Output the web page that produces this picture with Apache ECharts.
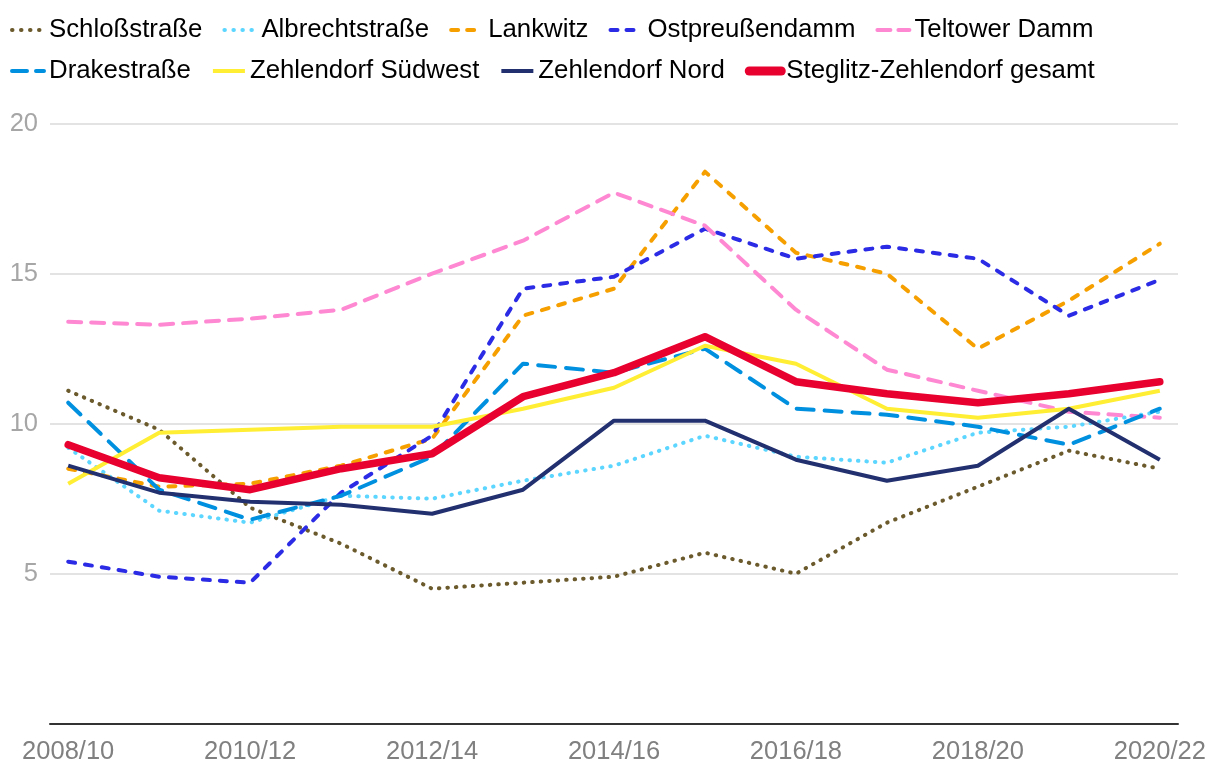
<!DOCTYPE html>
<html>
<head>
<meta charset="utf-8">
<script src="https://cdn.jsdelivr.net/npm/echarts@6/dist/echarts.min.js"></script>
<style>
html,body{margin:0;padding:0;background:#fff;}
#chart{width:1220px;height:776px;}
</style>
</head>
<body>
<div id="chart"></div>
<script>
const categories = ['2008/10','2009/11','2010/12','2011/13','2012/14','2013/15','2014/16','2015/17','2016/18','2017/19','2018/20','2019/21','2020/22'];
const labelIndices = [0, 2, 4, 6, 8, 10, 12];
const yTicks = [0, 5, 10, 15, 20];

const schlossstrasse   = [11.1, 9.8, 7.2, 6.0, 4.5, 4.7, 4.9, 5.7, 5.0, 6.7, 7.9, 9.1, 8.5];
const albrechtstrasse  = [9.2, 7.1, 6.7, 7.6, 7.5, 8.1, 8.6, 9.6, 8.9, 8.7, 9.7, 9.9, 10.4];
const lankwitz         = [8.5, 7.9, 8.0, 8.6, 9.5, 13.6, 14.5, 18.4, 15.7, 15.0, 12.5, 14.1, 16.0];
const ostpreussendamm  = [5.4, 4.9, 4.7, 7.7, 9.6, 14.5, 14.9, 16.5, 15.5, 15.9, 15.5, 13.6, 14.8];
const teltowerDamm     = [13.4, 13.3, 13.5, 13.8, 15.0, 16.1, 17.7, 16.6, 13.8, 11.8, 11.1, 10.4, 10.2];
const drakestrasse     = [10.7, 7.8, 6.8, 7.6, 8.9, 12.0, 11.7, 12.5, 10.5, 10.3, 9.9, 9.3, 10.5];
const zehlendorfSW     = [8.0, 9.7, 9.8, 9.9, 9.9, 10.5, 11.2, 12.6, 12.0, 10.5, 10.2, 10.5, 11.1];
const zehlendorfNord   = [8.6, 7.7, 7.4, 7.3, 7.0, 7.8, 10.1, 10.1, 8.8, 8.1, 8.6, 10.5, 8.8];
const gesamt           = [9.3, 8.2, 7.8, 8.5, 9.0, 10.9, 11.7, 12.9, 11.4, 11.0, 10.7, 11.0, 11.4];

const FONT = "'Liberation Sans', Arial, sans-serif";

function pts(arr){ return arr.map((v,i)=>[i,v]); }

const seriesDefs = [
  {name:'Schloßstraße', data:schlossstrasse, color:'#6b5a2c', width:4, type:[0.5,8], legendType:[0.5,8.5], cap:'round', legendWidth:4},
  {name:'Albrechtstraße', data:albrechtstrasse, color:'#5cd6ff', width:4, type:[0.5,8], legendType:[0.5,8.5], cap:'round', legendWidth:4},
  {name:'Lankwitz', data:lankwitz, color:'#f5a000', width:4, type:[7,10], legendType:[7,9], cap:'round', legendWidth:4},
  {name:'Ostpreußendamm', data:ostpreussendamm, color:'#2b2be6', width:4, type:[7,10], legendType:[7,9], cap:'round', legendWidth:4},
  {name:'Teltower Damm', data:teltowerDamm, color:'#ff88d2', width:4, type:[13,10], legendType:[13,8], cap:'round', legendWidth:4},
  {name:'Drakestraße', data:drakestrasse, color:'#0090e0', width:4, type:[17,11], legendType:[15,9], cap:'round', legendWidth:4},
  {name:'Zehlendorf Südwest', data:zehlendorfSW, color:'#ffee33', width:4, type:'solid', legendType:'solid', cap:'butt', legendWidth:4},
  {name:'Zehlendorf Nord', data:zehlendorfNord, color:'#233070', width:4, type:'solid', legendType:'solid', cap:'butt', legendWidth:4},
  {name:'Steglitz-Zehlendorf gesamt', data:gesamt, color:'#e8002e', width:7.5, type:'solid', legendType:'solid', cap:'round', legendWidth:9}
];

function legendItems(defs){
  return defs.map(s => ({
    name: s.name,
    itemStyle: {opacity: 0},
    lineStyle: {width: s.legendWidth, color: s.color, type: s.legendType, cap: s.cap}
  }));
}

const legendCommon = {
  left: 10, padding: 0, itemWidth: 32, itemHeight: 14, itemGap: 20,
  textStyle: {fontFamily: FONT, fontSize: 25.8, color: '#000'},
  itemStyle: {opacity: 0},
  selectedMode: false
};

const option = {
  animation: false,
  backgroundColor: '#fff',
  legend: [
    Object.assign({}, legendCommon, {top: 17, data: legendItems(seriesDefs.slice(0,5))}),
    Object.assign({}, legendCommon, {top: 58, data: legendItems(seriesDefs.slice(5))})
  ],
  grid: {left: 50, right: 42, top: 123.7, bottom: 52.3, containLabel: false},
  xAxis: {
    type: 'value', min: -0.2, max: 12.2,
    axisLine: {show: true, onZero: false, lineStyle: {color: '#333', width: 2}},
    axisTick: {show: false},
    splitLine: {show: false},
    axisLabel: {
      customValues: labelIndices,
      formatter: v => categories[Math.round(v)] || '',
      fontFamily: FONT, fontSize: 25.5, color: '#808080', margin: 15
    }
  },
  yAxis: {
    type: 'value', min: yTicks[0], max: yTicks[yTicks.length-1], interval: 5,
    axisLine: {show: false}, axisTick: {show: false},
    splitLine: {lineStyle: {color: '#e3e3e3', width: 2}},
    axisLabel: {
      formatter: v => (v === 0 ? '' : String(v)),
      fontFamily: FONT, fontSize: 25.5, color: '#a6a6a6', margin: 12,
      padding: [6, 0, 0, 0]
    }
  },
  series: seriesDefs.map(s => ({
    name: s.name, type: 'line', data: pts(s.data),
    symbol: 'none', showSymbol: false,
    color: s.color,
    itemStyle: {color: s.color},
    lineStyle: {color: s.color, width: s.width, type: s.type, cap: s.cap, join: 'round'},
    emphasis: {disabled: true}
  }))
};

const chart = echarts.init(document.getElementById('chart'), null, {renderer: 'canvas'});
chart.setOption(option);
</script>
</body>
</html>
